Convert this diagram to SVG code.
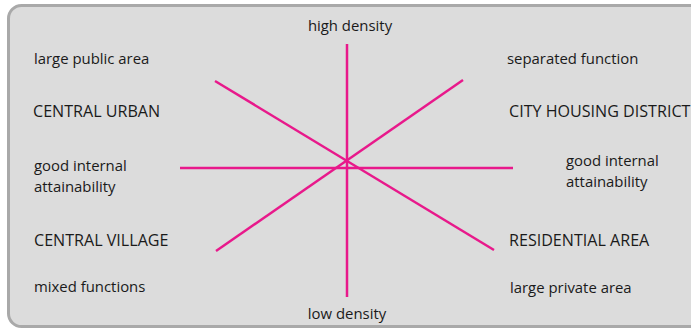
<svg xmlns="http://www.w3.org/2000/svg" width="691" height="329" viewBox="0 0 691 329">
<style>
.t{font-family:"Open Sans","Liberation Sans",sans-serif;font-size:14.9px;fill:#1a1a1a}
.c{font-family:"Open Sans","Liberation Sans",sans-serif;font-size:16.1px;fill:#1a1a1a}
.ln{stroke:#e8198b;stroke-width:2.5;fill:none;stroke-linecap:butt}
</style>
<rect x="0" y="0" width="691" height="329" fill="#ffffff"/>
<rect id="panel" x="8.5" y="5.5" width="700" height="321" rx="13" ry="13" fill="#dcdcdc" stroke="#a9a9a9" stroke-width="3"/>
<g id="connectors">
<line class="ln" x1="347" y1="44" x2="347" y2="297"/>
<line class="ln" x1="180" y1="168" x2="513" y2="168"/>
<line class="ln" x1="215" y1="81" x2="494" y2="250"/>
<line class="ln" x1="463" y1="80" x2="216" y2="251"/>
</g>
<g id="high-density"><text class="t" x="350" y="31" text-anchor="middle">high density</text></g>
<g id="low-density"><text class="t" x="347" y="319" text-anchor="middle">low density</text></g>
<g id="large-public-area"><text class="t" x="34" y="64">large public area</text></g>
<g id="separated-function"><text class="t" x="507" y="64">separated function</text></g>
<g id="central-urban"><text class="c" x="33" y="117">CENTRAL URBAN</text></g>
<g id="city-housing-district"><text class="c" x="509" y="117">CITY HOUSING DISTRICT</text></g>
<g id="good-internal-left"><text class="t" x="34" y="171">good internal</text><text class="t" x="34" y="192">attainability</text></g>
<g id="good-internal-right"><text class="t" x="566" y="166">good internal</text><text class="t" x="566" y="187">attainability</text></g>
<g id="central-village"><text class="c" x="34" y="246">CENTRAL VILLAGE</text></g>
<g id="residential-area"><text class="c" x="509" y="246">RESIDENTIAL AREA</text></g>
<g id="mixed-functions"><text class="t" x="34" y="292">mixed functions</text></g>
<g id="large-private-area"><text class="t" x="510" y="293">large private area</text></g>
</svg>
